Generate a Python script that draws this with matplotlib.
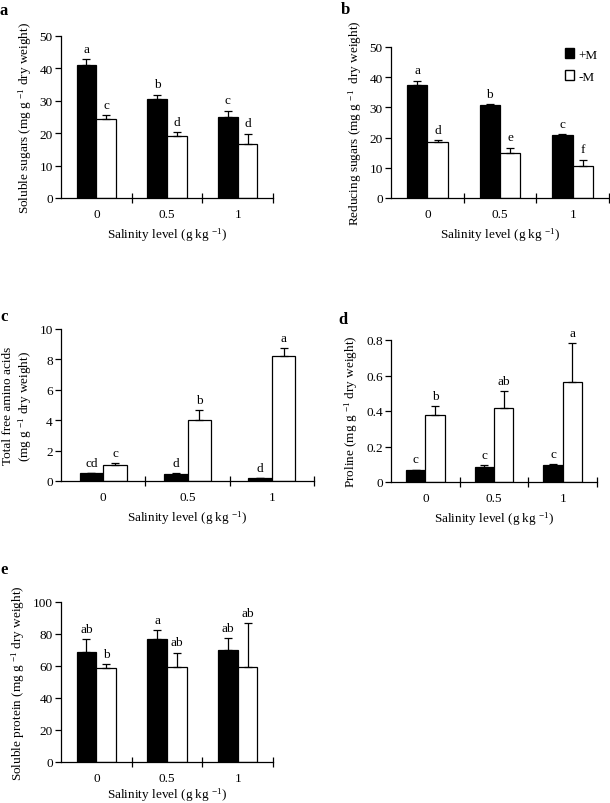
import matplotlib
matplotlib.use("Agg")
import matplotlib.pyplot as plt
from matplotlib.patches import Patch
import numpy as np

plt.rcParams["font.family"] = ["Liberation Serif", "DejaVu Serif"]
plt.rcParams["mathtext.default"] = "regular"
plt.rcParams["axes.linewidth"] = 0.9

# salinity levels (g kg-1)
levels = ["0", "0.5", "1"]

# a: soluble sugars
sol_sug_pm = [40.9, 30.6, 25.1]
sol_sug_pm_err = [2.0, 1.3, 1.9]
sol_sug_mm = [24.4, 19.0, 16.7]
sol_sug_mm_err = [1.3, 1.3, 3.2]
sol_sug_lab_pm = ["a", "b", "c"]
sol_sug_lab_mm = ["c", "d", "d"]

# b: reducing sugars
red_sug_pm = [37.5, 30.8, 20.9]
red_sug_pm_err = [1.4, 0.3, 0.4]
red_sug_mm = [18.5, 14.8, 10.7]
red_sug_mm_err = [0.6, 1.9, 2.0]
red_sug_lab_pm = ["a", "b", "c"]
red_sug_lab_mm = ["d", "e", "f"]

# c: total free amino acids
amino_pm = [0.53, 0.44, 0.2]
amino_pm_err = [0.0, 0.06, 0.0]
amino_mm = [1.05, 4.04, 8.2]
amino_mm_err = [0.11, 0.63, 0.53]
amino_lab_pm = ["cd", "d", "d"]
amino_lab_mm = ["c", "b", "a"]

# d: proline
proline_pm = [0.065, 0.082, 0.095]
proline_pm_err = [0.005, 0.011, 0.005]
proline_mm = [0.378, 0.416, 0.562]
proline_mm_err = [0.049, 0.094, 0.219]
proline_lab_pm = ["c", "c", "c"]
proline_lab_mm = ["b", "ab", "a"]

# e: soluble protein
protein_pm = [68.6, 76.6, 69.7]
protein_pm_err = [8.2, 6.0, 7.7]
protein_mm = [58.8, 59.6, 59.6]
protein_mm_err = [2.5, 8.8, 27.2]
protein_lab_pm = ["ab", "a", "ab"]
protein_lab_mm = ["b", "ab", "ab"]

W, H = 610, 804
FS = 9.5
fig = plt.figure(figsize=(W / 100, H / 100), dpi=100)


def make_ax(l, r, t, b):
    return fig.add_axes([l / W, 1 - b / H, (r - l) / W, (b - t) / H])


def draw_panel(ax, pm, pm_err, mm, mm_err, lab_pm, lab_mm, ymax, ystep, ylabel, tickfmt, xpad=4):
    x = np.arange(len(levels))
    bw = 0.28
    for xs, vals, errs, labs, fc in [(x - bw / 2, pm, pm_err, lab_pm, "black"),
                                     (x + bw / 2, mm, mm_err, lab_mm, "white")]:
        ax.bar(xs, vals, width=bw, color=fc, edgecolor="black", linewidth=0.9,
               yerr=[[0] * len(vals), errs], capsize=3,
               error_kw=dict(elinewidth=0.9, capthick=0.9, ecolor="black"))
        for xi, v, e, s in zip(xs, vals, errs, labs):
            ax.annotate(s, (xi, v + e), xytext=(0, 3), textcoords="offset points",
                        ha="center", va="bottom", fontsize=FS)
    ax.set_xlim(-0.5, 2.5)
    ax.set_ylim(0, ymax)
    ticks = np.arange(0, ymax + ystep / 2, ystep)
    ax.set_yticks(ticks)
    ax.set_yticklabels([tickfmt(v) for v in ticks])
    ax.set_xticks(x)
    ax.set_xticklabels(levels)
    ax.set_xticks([0.5, 1.5, 2.5], minor=True)
    ax.tick_params(axis="x", which="major", length=0, pad=7, labelsize=FS)
    ax.tick_params(axis="x", which="minor", direction="inout", length=7, width=0.9)
    ax.tick_params(axis="y", direction="out", length=4, width=0.9, labelsize=FS, pad=2)
    for sp in ["top", "right"]:
        ax.spines[sp].set_visible(False)
    ax.set_xlabel("Salinity level (g kg $^{-1}$)", fontsize=FS, labelpad=xpad)
    ax.set_ylabel(ylabel, fontsize=FS, labelpad=4)


ylab = "(mg g $^{-1}$ dry weight)"
axa = make_ax(61, 273, 37, 199)
draw_panel(axa, sol_sug_pm, sol_sug_pm_err, sol_sug_mm, sol_sug_mm_err,
           sol_sug_lab_pm, sol_sug_lab_mm, 50, 10, "Soluble sugars " + ylab,
           lambda v: f"{v:.0f}")

axb = make_ax(391, 609, 48, 199)
draw_panel(axb, red_sug_pm, red_sug_pm_err, red_sug_mm, red_sug_mm_err,
           red_sug_lab_pm, red_sug_lab_mm, 50, 10, "Reducing sugars (mg g $^{-1}$  dry weight)",
           lambda v: f"{v:.0f}")
axb.legend(handles=[Patch(facecolor="black", edgecolor="black", label="+M"),
                    Patch(facecolor="white", edgecolor="black", label="-M")],
           loc="upper right", bbox_to_anchor=(1.0, 1.07), frameon=False, fontsize=FS,
           handlelength=0.7, handleheight=0.7, handletextpad=0.3, labelspacing=0.75)

axc = make_ax(61, 314, 330, 482)
draw_panel(axc, amino_pm, amino_pm_err, amino_mm, amino_mm_err,
           amino_lab_pm, amino_lab_mm, 10, 2, "Total free amino acids\n" + ylab,
           lambda v: f"{v:.0f}")

axd = make_ax(391, 597, 341, 483)
draw_panel(axd, proline_pm, proline_pm_err, proline_mm, proline_mm_err,
           proline_lab_pm, proline_lab_mm, 0.8, 0.2, "Proline " + ylab,
           lambda v: "0" if v == 0 else f"{v:.1f}")

axe = make_ax(61, 273, 603, 763)
draw_panel(axe, protein_pm, protein_pm_err, protein_mm, protein_mm_err,
           protein_lab_pm, protein_lab_mm, 100, 20, "Soluble protein " + ylab,
           lambda v: f"{v:.0f}", xpad=1)

for s, px, py in [("a", 0, 3), ("b", 341, 2), ("c", 0, 309), ("d", 338, 312), ("e", 0, 562)]:
    fig.text(px / W, 1 - py / H, s, fontsize=12, fontweight="bold", ha="left", va="top")

fig.savefig("out.png", dpi=100)
